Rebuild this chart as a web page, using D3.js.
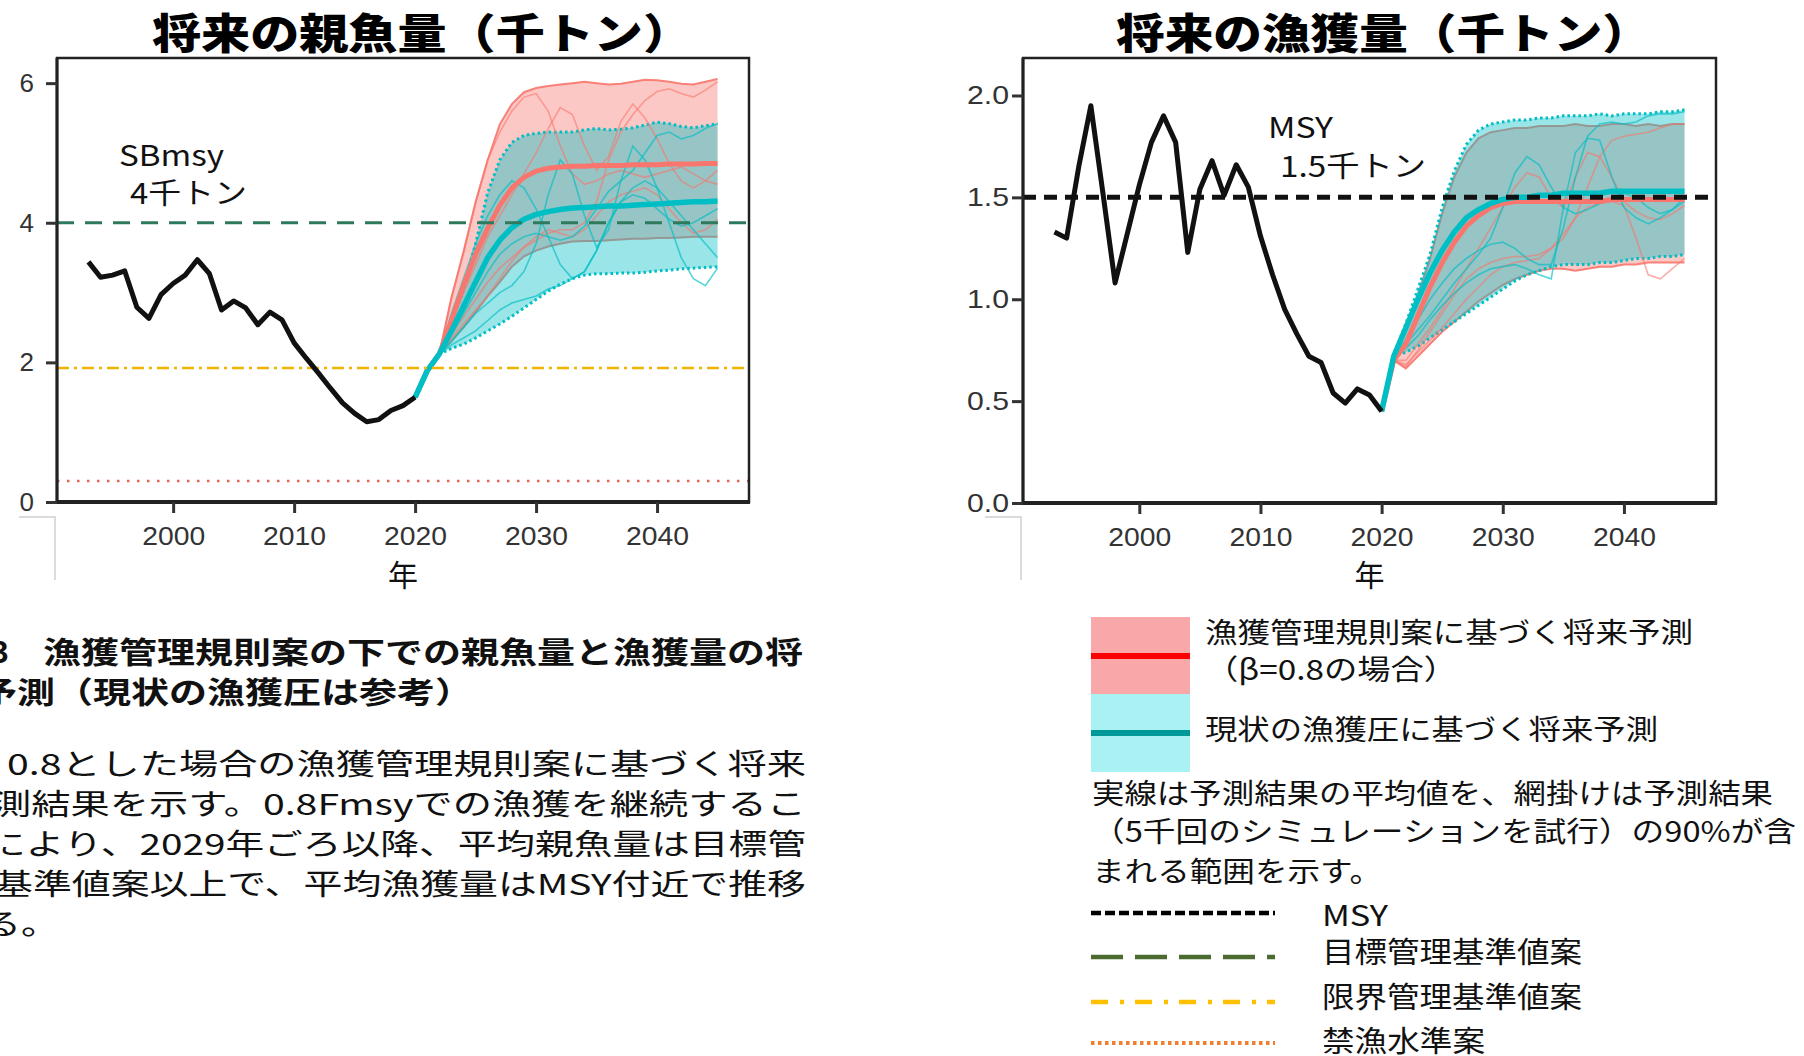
<!DOCTYPE html>
<html><head><meta charset="utf-8">
<script src="https://cdn.jsdelivr.net/npm/d3@7"></script>
<style>body{margin:0;background:#fff;} svg{display:block;}</style>
</head><body><svg id="c" width="1804" height="1056"></svg>
<script>
// ---------------- DATA ----------------
const histYears = d3.range(1993, 2021);
const projYears = d3.range(2020, 2046);
const xTicks = [2000, 2010, 2020, 2030, 2040];
const ssbTicks = [0, 2, 4, 6];
const catchTicks = [0, 0.5, 1.0, 1.5, 2.0];

// 親魚量 (千トン)
const ssbHist = [3.44,3.22,3.25,3.31,2.79,2.63,2.97,3.13,3.25,3.47,3.27,2.75,2.88,2.78,2.54,2.72,2.61,2.28,2.06,1.85,1.63,1.42,1.27,1.15,1.18,1.31,1.38,1.50];
const ssbRedMean  = [1.50,1.88,2.12,2.60,3.10,3.55,3.92,4.25,4.50,4.65,4.74,4.78,4.80,4.81,4.81,4.82,4.82,4.82,4.83,4.83,4.83,4.84,4.84,4.84,4.85,4.85];
const ssbRedUpper = [1.50,1.88,2.12,2.93,3.57,4.29,4.90,5.41,5.70,5.87,5.93,5.96,5.98,6.00,6.02,6.00,5.98,5.99,6.02,6.05,6.04,6.02,5.99,5.98,6.02,6.06];
const ssbRedLower = [1.50,1.88,2.12,2.30,2.50,2.72,2.95,3.15,3.37,3.52,3.60,3.66,3.70,3.73,3.74,3.74,3.75,3.76,3.77,3.77,3.78,3.78,3.79,3.80,3.80,3.80];
const ssbCyanMean  = [1.50,1.88,2.12,2.45,2.80,3.15,3.50,3.75,3.93,4.05,4.12,4.16,4.19,4.21,4.22,4.23,4.24,4.24,4.25,4.26,4.27,4.28,4.29,4.30,4.30,4.31];
const ssbCyanUpper = [1.50,1.88,2.12,2.57,3.04,3.70,4.43,4.90,5.15,5.25,5.28,5.30,5.30,5.30,5.33,5.35,5.33,5.34,5.36,5.40,5.44,5.42,5.38,5.36,5.39,5.42];
const ssbCyanLower = [1.50,1.88,2.12,2.20,2.26,2.35,2.45,2.55,2.66,2.78,2.90,3.02,3.12,3.20,3.25,3.27,3.27,3.28,3.28,3.29,3.31,3.32,3.34,3.35,3.36,3.37];
const ssbRedTraceA = [1.50,1.88,2.12,2.60,3.00,3.40,3.80,4.10,4.40,4.70,5.00,5.35,5.65,5.55,5.10,4.75,4.95,5.45,5.70,5.50,5.20,4.85,4.60,4.50,4.60,4.75];
const ssbRedTraceB = [1.50,1.88,2.12,2.40,2.65,2.90,3.15,3.35,3.50,3.65,3.75,3.85,3.90,3.90,4.00,4.30,4.90,5.30,5.55,5.75,5.88,5.92,5.85,5.80,5.90,6.02];
const ssbRedTraceC = [1.50,1.88,2.12,2.90,3.60,4.30,4.90,5.30,5.60,5.80,5.85,5.60,5.10,4.70,4.55,4.60,4.70,4.75,4.70,4.65,4.70,4.75,4.80,4.70,4.60,4.55];
const ssbRedTraceD = [1.50,1.88,2.12,2.35,2.55,2.75,2.95,3.20,3.45,3.65,3.80,3.90,3.85,3.80,3.90,4.10,4.30,4.40,4.45,4.50,4.40,4.20,4.00,3.85,3.90,4.05];
const ssbCyanTraceA = [1.50,1.88,2.12,2.30,2.50,2.70,2.85,3.00,3.10,3.30,3.70,4.40,4.90,4.70,4.10,3.65,3.90,4.60,5.10,4.90,4.50,4.00,3.50,3.20,3.10,3.35];
const ssbCyanTraceB = [1.50,1.88,2.12,2.40,2.70,3.00,3.30,3.55,3.70,3.80,3.85,3.80,3.75,3.80,3.95,4.20,4.45,4.60,4.75,5.00,5.25,5.30,5.20,5.25,5.35,5.42];
const ssbCyanTraceC = [1.50,1.88,2.12,2.25,2.35,2.45,2.60,2.75,2.85,2.90,2.95,3.05,3.10,3.20,3.30,3.60,4.00,4.30,4.40,4.35,4.20,4.05,3.95,4.00,4.10,4.20];
const ssbCyanTraceD = [1.50,1.88,2.12,2.70,3.20,3.70,4.10,4.40,4.60,4.50,4.20,3.80,3.40,3.20,3.30,3.60,4.00,4.30,4.50,4.60,4.50,4.30,4.10,3.90,3.70,3.50];

// 漁獲量 (千トン)
const catchHist = [1.33,1.30,1.65,1.95,1.52,1.08,1.32,1.56,1.77,1.90,1.77,1.23,1.54,1.68,1.51,1.66,1.55,1.31,1.12,0.95,0.83,0.72,0.69,0.54,0.49,0.56,0.53,0.45];
const catchRedMean  = [0.45,0.70,0.78,0.92,1.06,1.18,1.28,1.36,1.41,1.45,1.47,1.48,1.48,1.48,1.48,1.48,1.48,1.48,1.48,1.49,1.49,1.49,1.49,1.49,1.49,1.49];
const catchRedUpper = [0.45,0.72,0.85,1.02,1.20,1.42,1.60,1.72,1.79,1.82,1.83,1.84,1.84,1.85,1.85,1.85,1.86,1.85,1.85,1.86,1.86,1.85,1.86,1.85,1.86,1.86];
const catchRedLower = [0.45,0.70,0.66,0.72,0.78,0.84,0.89,0.94,0.99,1.03,1.07,1.10,1.12,1.14,1.15,1.15,1.14,1.15,1.16,1.16,1.17,1.17,1.18,1.18,1.18,1.18];
const catchCyanMean  = [0.45,0.72,0.86,1.00,1.13,1.24,1.33,1.40,1.44,1.47,1.49,1.50,1.50,1.51,1.51,1.52,1.52,1.52,1.52,1.53,1.53,1.53,1.53,1.53,1.53,1.53];
const catchCyanUpper = [0.45,0.73,0.88,1.05,1.22,1.45,1.63,1.76,1.83,1.86,1.87,1.88,1.88,1.89,1.89,1.90,1.90,1.90,1.91,1.90,1.91,1.91,1.91,1.92,1.92,1.93];
const catchCyanLower = [0.45,0.72,0.74,0.77,0.81,0.85,0.89,0.93,0.97,1.01,1.05,1.09,1.12,1.14,1.16,1.17,1.17,1.17,1.18,1.18,1.19,1.20,1.20,1.21,1.21,1.22];
const catchRedTraceA = [0.45,0.70,0.70,0.78,0.86,0.95,1.05,1.15,1.25,1.35,1.45,1.55,1.62,1.60,1.50,1.45,1.60,1.72,1.70,1.60,1.48,1.43,1.40,1.39,1.42,1.46];
const catchRedTraceB = [0.45,0.70,0.68,0.74,0.80,0.86,0.93,1.00,1.06,1.12,1.16,1.18,1.19,1.20,1.25,1.30,1.40,1.55,1.70,1.78,1.80,1.81,1.82,1.84,1.86,1.86];
const catchRedTraceC = [0.45,0.70,0.67,0.75,0.84,0.93,1.02,1.10,1.15,1.18,1.20,1.21,1.21,1.22,1.25,1.32,1.40,1.45,1.47,1.48,1.46,1.30,1.12,1.10,1.15,1.20];
const catchCyanTraceA = [0.45,0.72,0.78,0.85,0.92,1.00,1.08,1.15,1.22,1.30,1.45,1.62,1.70,1.66,1.55,1.45,1.42,1.44,1.47,1.50,1.52,1.50,1.45,1.42,1.44,1.50];
const catchCyanTraceB = [0.45,0.72,0.76,0.82,0.90,0.97,1.03,1.08,1.12,1.15,1.16,1.17,1.15,1.12,1.10,1.45,1.72,1.79,1.78,1.60,1.45,1.40,1.37,1.40,1.44,1.48];
const catchCyanTraceC = [0.45,0.72,0.80,0.90,1.00,1.08,1.15,1.20,1.24,1.27,1.28,1.25,1.20,1.17,1.17,1.35,1.60,1.80,1.86,1.87,1.86,1.87,1.90,1.91,1.91,1.92];

// texts
const titles = ["将来の親魚量（千トン）", "将来の漁獲量（千トン）"];
const xAxisLabel = "年";
const refLabels = [["SBmsy", "4千トン"], ["MSY", "1.5千トン"]];
const refValues = { target: 4.0, limit: 1.92, ban: 0.30, msy: 1.5 };
const legendBandLabels = ["漁獲管理規則案に基づく将来予測", "（β=0.8の場合）", "現状の漁獲圧に基づく将来予測"];
const legendNote = ["実線は予測結果の平均値を、網掛けは予測結果", "（5千回のシミュレーションを試行）の90%が含", "まれる範囲を示す。"];
const legendLineLabels = ["MSY", "目標管理基準値案", "限界管理基準値案", "禁漁水準案"];
const captionHead = [["図13", "漁獲管理規則案の下での親魚量と漁獲量の将"], ["", "予測（現状の漁獲圧は参考）"]];
const captionBody = [["βを", "0.8とした場合の漁獲管理規則案に基づく将来"], ["予", "測結果を示す。0.8Fmsyでの漁獲を継続するこ"], ["と", "により、2029年ごろ以降、平均親魚量は目標管"], ["理", "基準値案以上で、平均漁獲量はMSY付近で推移"], ["す", "る。"]];

// ---------------- DRAW ----------------
const JP = "'Noto Sans CJK JP','Noto Sans',sans-serif";
const LAT = "'Liberation Sans','Noto Sans',sans-serif";
const RED = "#F8766D", CYAN = "#00BFC4";
const svg = d3.select("#c");
svg.append("rect").attr("width", 1804).attr("height", 1056).attr("fill", "#fff");

function txt(str, x, y, size, o = {}) {
  const t = svg.append("text").attr("x", x).attr("y", y).text(str)
    .attr("font-family", o.family || JP).attr("font-size", size)
    .attr("font-weight", o.weight || 400).attr("fill", o.fill || "#111")
    .attr("text-anchor", o.anchor || "start");
  if (o.len) t.attr("textLength", o.len).attr("lengthAdjust", "spacingAndGlyphs");
  return t;
}

function panel(c) {
  const g = svg.append("g");
  const x = d3.scaleLinear().domain([1990.4, 2047.6]).range([c.x0, c.x1]);
  const y = d3.scaleLinear().domain([0, c.ymax]).range([c.y1, c.y0]);
  const idx = d3.range(projYears.length);
  const area = (lo, hi) => d3.area().x(i => x(projYears[i])).y0(i => y(lo[i])).y1(i => y(hi[i]))(idx);
  const pline = arr => d3.line().x(i => x(projYears[i])).y(i => y(arr[i]))(idx);

  // red band
  g.append("path").attr("d", area(c.redLo, c.redHi)).attr("fill", RED).attr("fill-opacity", 0.4);
  [c.redLo, c.redHi].forEach(a => g.append("path").attr("d", pline(a)).attr("fill", "none")
    .attr("stroke", RED).attr("stroke-width", 2).attr("stroke-opacity", 0.9));
  // cyan band on top
  g.append("path").attr("d", area(c.cyLo, c.cyHi)).attr("fill", CYAN).attr("fill-opacity", 0.4);
  [c.cyLo, c.cyHi].forEach(a => g.append("path").attr("d", pline(a)).attr("fill", "none")
    .attr("stroke", CYAN).attr("stroke-width", 3).attr("stroke-dasharray", "2.5,3"));
  // traces
  c.redTraces.forEach(a => g.append("path").attr("d", pline(a)).attr("fill", "none")
    .attr("stroke", RED).attr("stroke-width", 1.6).attr("stroke-opacity", 0.6));
  c.cyTraces.forEach(a => g.append("path").attr("d", pline(a)).attr("fill", "none")
    .attr("stroke", CYAN).attr("stroke-width", 1.6).attr("stroke-opacity", 0.65));
  // means
  g.append("path").attr("d", pline(c.redMean)).attr("fill", "none").attr("stroke", RED)
    .attr("stroke-width", 5).attr("stroke-linejoin", "round");
  g.append("path").attr("d", pline(c.cyMean)).attr("fill", "none").attr("stroke", CYAN)
    .attr("stroke-width", 5.5).attr("stroke-linejoin", "round");

  // reference lines
  c.refs.forEach(r => g.append("line").attr("x1", c.x0).attr("x2", c.x1)
    .attr("y1", y(r.v)).attr("y2", y(r.v)).attr("stroke", r.color)
    .attr("stroke-width", r.w).attr("stroke-dasharray", r.dash));

  // historical
  g.append("path").datum(c.hist)
    .attr("d", d3.line().x((d, i) => x(histYears[i])).y(d => y(d)))
    .attr("fill", "none").attr("stroke", "#111").attr("stroke-width", 5)
    .attr("stroke-linejoin", "round");

  // frame
  g.append("rect").attr("x", c.x0).attr("y", c.y0).attr("width", c.x1 - c.x0)
    .attr("height", c.y1 - c.y0).attr("fill", "none").attr("stroke", "#222").attr("stroke-width", 2.5);
  g.append("line").attr("x1", c.x0 - 1).attr("x2", c.x1 + 1).attr("y1", c.y1).attr("y2", c.y1)
    .attr("stroke", "#222").attr("stroke-width", 4);
  g.append("line").attr("x1", c.x0).attr("x2", c.x0).attr("y1", c.y0).attr("y2", c.y1)
    .attr("stroke", "#222").attr("stroke-width", 3);

  // axes
  const ax = g.append("g").attr("transform", `translate(0,${c.y1})`)
    .call(d3.axisBottom(x).tickValues(xTicks).tickFormat(d3.format("d")).tickSize(11).tickPadding(14));
  ax.select(".domain").remove();
  ax.selectAll(".tick line").attr("stroke", "#333").attr("stroke-width", 3);
  ax.selectAll(".tick text").attr("font-family", LAT).attr("font-size", 26).attr("fill", "#333")
    .attr("textLength", 63).attr("lengthAdjust", "spacingAndGlyphs");
  const ay = g.append("g").attr("transform", `translate(${c.x0},0)`)
    .call(d3.axisLeft(y).tickValues(c.yTicks).tickFormat(c.yFmt).tickSize(11).tickPadding(c.ypad));
  ay.select(".domain").remove();
  ay.selectAll(".tick line").attr("stroke", "#333").attr("stroke-width", 3);
  ay.selectAll(".tick text").attr("font-family", LAT).attr("font-size", 26).attr("fill", "#333")
    .each(function () { if (this.textContent.length > 1) d3.select(this).attr("textLength", 42).attr("lengthAdjust", "spacingAndGlyphs"); });

  // stray light-gray guide artifacts
  g.append("path").attr("d", `M${c.x0 - 38},517H${c.x0 - 2}V580`).attr("fill", "none")
    .attr("stroke", "#cfcfcf").attr("stroke-width", 1.5);

  txt(xAxisLabel, (c.x0 + c.x1) / 2, 586, 30, { anchor: "middle" });
}

panel({
  x0: 57, x1: 749, y0: 58, y1: 502, ymax: 6.36, yTicks: ssbTicks, yFmt: d3.format("d"), ypad: 12,
  hist: ssbHist, redMean: ssbRedMean, redHi: ssbRedUpper, redLo: ssbRedLower,
  cyMean: ssbCyanMean, cyHi: ssbCyanUpper, cyLo: ssbCyanLower,
  redTraces: [ssbRedTraceA, ssbRedTraceB, ssbRedTraceC, ssbRedTraceD],
  cyTraces: [ssbCyanTraceA, ssbCyanTraceB, ssbCyanTraceC, ssbCyanTraceD],
  refs: [
    { v: refValues.target, color: "#2F7A5C", w: 3, dash: "17,11" },
    { v: refValues.limit, color: "#F0B400", w: 2.5, dash: "12,5,3,5" },
    { v: refValues.ban, color: "#E8645A", w: 2.5, dash: "2.5,7.5" }
  ]
});
panel({
  x0: 1023, x1: 1716, y0: 58, y1: 503, ymax: 2.184, yTicks: catchTicks, yFmt: d3.format(".1f"), ypad: 3,
  hist: catchHist, redMean: catchRedMean, redHi: catchRedUpper, redLo: catchRedLower,
  cyMean: catchCyanMean, cyHi: catchCyanUpper, cyLo: catchCyanLower,
  redTraces: [catchRedTraceA, catchRedTraceB, catchRedTraceC],
  cyTraces: [catchCyanTraceA, catchCyanTraceB, catchCyanTraceC],
  refs: [{ v: refValues.msy, color: "#111", w: 5, dash: "13,8" }]
});

// titles
txt(titles[0], 152, 49, 42, { weight: 900, len: 540, fill: "#000" });
txt(titles[1], 1116, 49, 42, { weight: 900, len: 535, fill: "#000" });

// annotations inside plots
txt(refLabels[0][0], 119, 166, 29, { len: 105 });
txt(refLabels[0][1], 130, 204, 29, { len: 117 });
txt(refLabels[1][0], 1268, 138, 29, { len: 65 });
txt(refLabels[1][1], 1280, 177, 29, { len: 146 });

// legend swatches
svg.append("rect").attr("x", 1091).attr("y", 617).attr("width", 99).attr("height", 77).attr("fill", "#F8A8A8");
svg.append("rect").attr("x", 1091).attr("y", 694).attr("width", 99).attr("height", 78).attr("fill", "#AAF1F4");
svg.append("rect").attr("x", 1091).attr("y", 653).attr("width", 99).attr("height", 6).attr("fill", "#FF0000");
svg.append("rect").attr("x", 1091).attr("y", 730).attr("width", 99).attr("height", 6).attr("fill", "#009999");
txt(legendBandLabels[0], 1205, 643, 28, { len: 488 });
txt(legendBandLabels[1], 1205, 680, 28, { len: 252 });
txt(legendBandLabels[2], 1205, 740, 28, { len: 453 });
txt(legendNote[0], 1092, 804, 28, { len: 681 });
txt(legendNote[1], 1092, 842, 28, { len: 704 });
txt(legendNote[2], 1092, 882, 28, { len: 290 });

const legLines = [
  { y: 913, color: "#000", w: 4.5, dash: "10,4" },
  { y: 957, color: "#4B6B30", w: 4.5, dash: "32,12" },
  { y: 1002, color: "#FFC000", w: 4.5, dash: "17,12,4,11" },
  { y: 1043, color: "#F08030", w: 4, dash: "3.5,3.5" }
];
legLines.forEach(l => svg.append("line").attr("x1", 1091).attr("x2", 1275).attr("y1", l.y).attr("y2", l.y)
  .attr("stroke", l.color).attr("stroke-width", l.w).attr("stroke-dasharray", l.dash));
txt(legendLineLabels[0], 1322, 926, 29, { len: 66 });
txt(legendLineLabels[1], 1322, 963, 29, { len: 260 });
txt(legendLineLabels[2], 1322, 1008, 29, { len: 260 });
txt(legendLineLabels[3], 1322, 1052, 29, { len: 163 });

// caption (left, partly cut off at the page edge)
txt(captionHead[0][0], 9, 663, 30, { weight: 700, anchor: "end" });
txt(captionHead[0][1], 43, 663, 30, { weight: 700, len: 760 });
txt(captionHead[1][1], -21, 703, 30, { weight: 700, len: 494 });
const bodyStarts = [7, -8, -13, -6, -17];
const prefixEnds = [-4, -8, -13, -6, -17];
const bodyLens = [799, 814, 819, 812, 76];
captionBody.forEach((ln, i) => {
  const yy = 775 + i * 40;
  txt(ln[0], prefixEnds[i], yy, 29, { anchor: "end" });
  txt(ln[1], bodyStarts[i], yy, 29, { len: bodyLens[i] });
});
</script></body></html>
